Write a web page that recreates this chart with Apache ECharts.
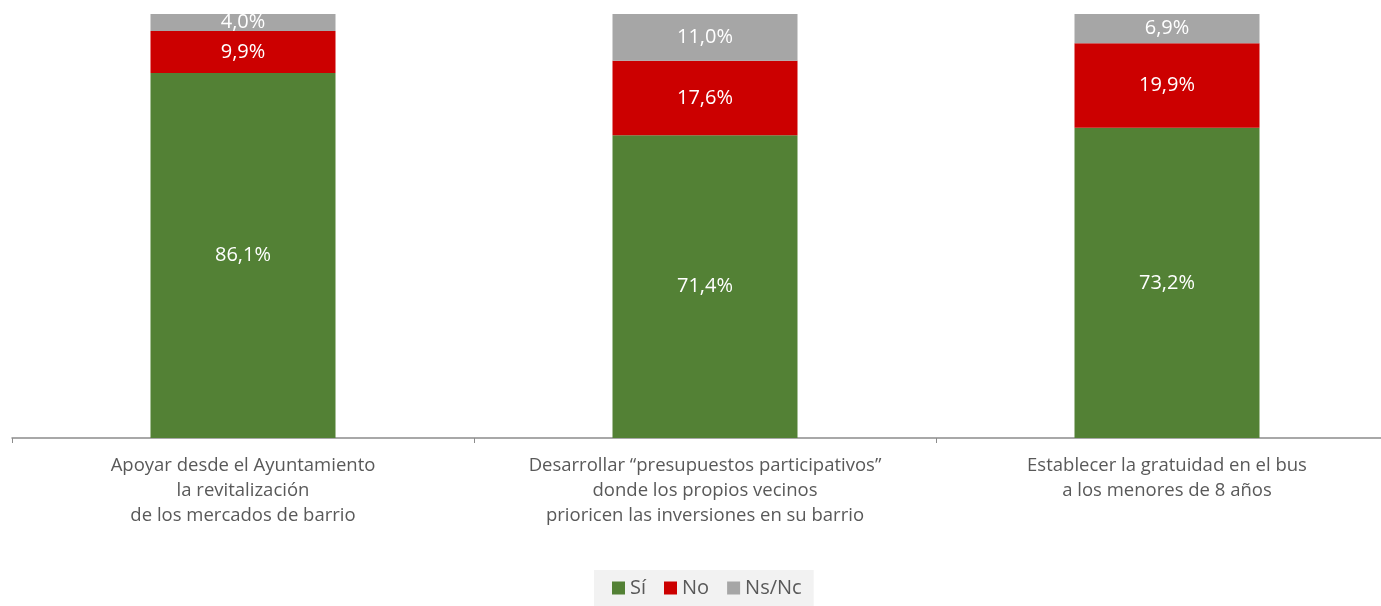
<!DOCTYPE html>
<html>
<head>
<meta charset="utf-8">
<script src="https://cdn.jsdelivr.net/npm/echarts@6/dist/echarts.min.js"></script>
<style>
html,body{margin:0;padding:0;background:#fff;overflow:hidden;}
#chart{width:1381px;height:606px;}
</style>
</head>
<body>
<div id="chart"></div>
<script>
const categories = [
  "Apoyar desde el Ayuntamiento\nla revitalización\nde los mercados de barrio",
  "Desarrollar “presupuestos participativos”\ndonde los propios vecinos\nprioricen las inversiones en su barrio",
  "Establecer la gratuidad en el bus\na los menores de 8 años"
];
const seriesNames = ["Sí", "No", "Ns/Nc"];
const si = [86.1, 71.4, 73.2];
const no = [9.9, 17.6, 19.9];
const nsnc = [4.0, 11.0, 6.9];
const colors = ["#538135", "#cc0000", "#a6a6a6"];

const font = "'Open Sans', 'Noto Sans', sans-serif";
const fmt = p => p.value.toFixed(1).replace('.', ',') + '%';

function mk(name, data, color) {
  return {
    name: name, type: 'bar', stack: 'total', data: data, barWidth: 185,
    itemStyle: { color: color },
    label: { show: true, position: 'inside', color: '#fff', fontSize: 20, fontFamily: font, formatter: fmt },
    emphasis: { disabled: true }
  };
}

const chart = echarts.init(document.getElementById('chart'));
chart.setOption({
  animation: false,
  textStyle: { fontFamily: font },
  grid: { left: 12, right: -17, top: 14, bottom: 168, containLabel: false, outerBoundsMode: 'none' },
  legend: {
    data: seriesNames,
    left: 594, top: 570,
    backgroundColor: '#f2f2f2',
    padding: [8, 12, 8, 18],
    itemWidth: 13, itemHeight: 13, itemGap: 18,
    icon: 'rect',
    textStyle: { color: '#595959', fontSize: 20, fontFamily: font }
  },
  xAxis: {
    type: 'category', data: categories,
    axisLine: { lineStyle: { color: '#8c8c8c', width: 1.5 } },
    axisTick: { show: true, length: 5, lineStyle: { color: '#8c8c8c' } },
    axisLabel: { color: '#595959', fontSize: 18.5, lineHeight: 25, margin: 15, fontFamily: font, interval: 0 }
  },
  yAxis: { type: 'value', min: 0, max: 100, show: false, splitLine: { show: false } },
  series: [mk(seriesNames[0], si, colors[0]), mk(seriesNames[1], no, colors[1]), mk(seriesNames[2], nsnc, colors[2])]
});
</script>
</body>
</html>
